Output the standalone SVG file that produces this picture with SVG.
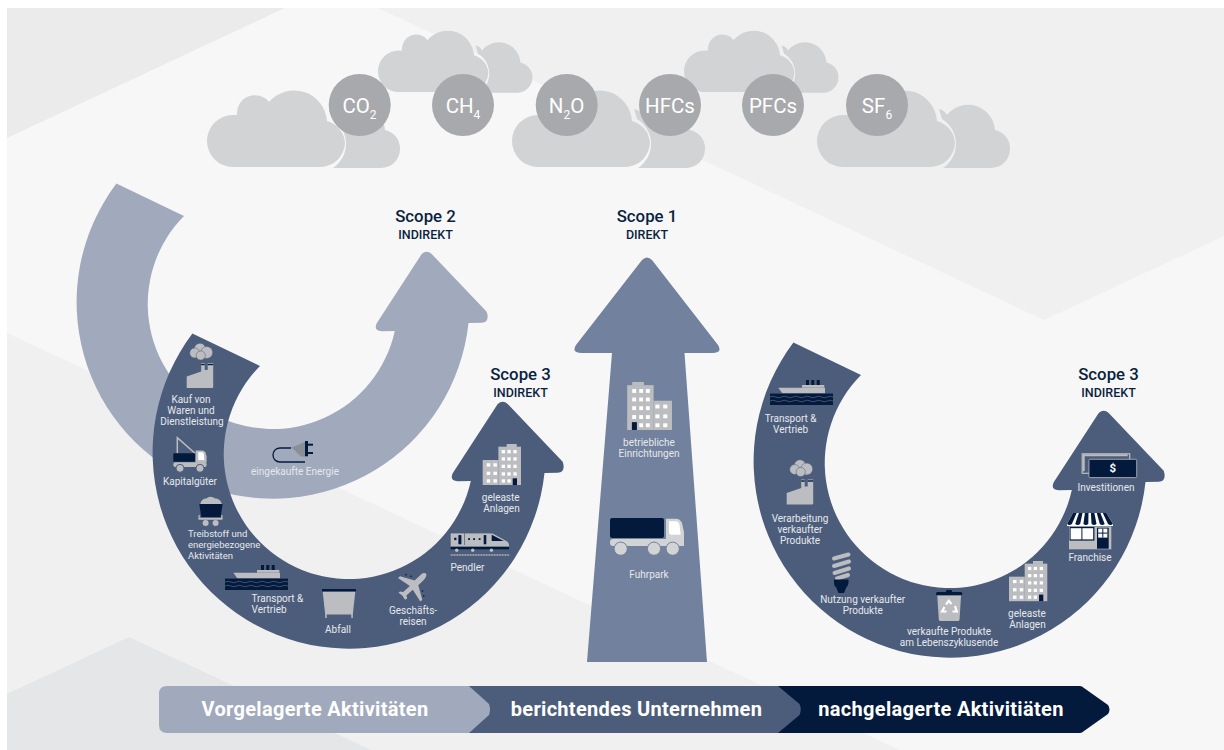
<svg xmlns="http://www.w3.org/2000/svg" xmlns:xlink="http://www.w3.org/1999/xlink" width="1224" height="750" viewBox="0 0 1224 750">
<style>
text{font-family:Roboto,"Liberation Sans",sans-serif}
.l{font-size:10px;fill:#E6E8EC;text-anchor:middle}
.ls{font-size:10px;fill:#E6E8EC}
.lt{font-size:9.5px;fill:#E6E8EC}
.sc{font-size:16.8px;font-weight:500;fill:#0B1F3F;text-anchor:middle}
.si{font-size:12.5px;font-weight:500;fill:#0B1F3F;text-anchor:middle}
.g{font-size:20.5px;fill:#fff;text-anchor:middle}
.sub{font-size:12px}
.b{font-size:20px;font-weight:700;fill:#fff;text-anchor:middle;letter-spacing:.3px}
.cl{fill:#D1D3D4}
.gc{fill:#A8A9AC}
.ic{fill:#BCBDC0}
.n{fill:#031A3C}
.w{fill:#fff}
.win{fill:#fff}
</style>
<defs>
<path id="front" d="M26 0A26 26 0 0 1 26 -52H30A18 18 0 0 1 62 -65A33 33 0 0 1 120 -46A25 25 0 0 1 138 -25A25 25 0 0 1 113 0Z"/>
<path id="back" d="M126 1A29 29 0 0 0 125 -48L122 -58Q127 -57 130 -52A27 27 0 0 1 178 -37A19 19 0 0 1 193 -18A19 19 0 0 1 174 1Z"/>
<g id="cloud"><use href="#back" class="cl"/><use href="#front" class="cl"/></g>
<path id="arc" d="M116.4 183.6A196.5 196.5 0 1 0 468.5 323L481.7 322.7Q490 322.3 486.7 311.7L431.7 254Q426.7 249.3 421.7 254L376.7 323.3Q373.3 331 381.7 331.3L394.8 331A125 125 0 1 1 184 216Z"/>
<g id="factory">
<circle cx="13.3" cy="6" r="5.8" class="ic" stroke="#4C5D7B" stroke-width=".5"/>
<circle cx="8" cy="10" r="5" class="ic" stroke="#4C5D7B" stroke-width=".5"/>
<circle cx="20" cy="9.5" r="6" class="ic" stroke="#4C5D7B" stroke-width=".5"/>
<circle cx="14" cy="12.5" r="4.6" class="ic" stroke="#4C5D7B" stroke-width=".5"/>
<path class="ic" d="M0 45V33.5L14.5 28.5V20H18V27H21V20H26.5V44Q26.5 45 25.5 45Z"/>
<rect class="n" x="14.5" y="20.8" width="3.5" height="1.4"/><rect class="n" x="21" y="20.8" width="5.5" height="1.4"/>
</g>
<g id="crane">
<path d="M4 16V.3L21.7 16" fill="none" stroke="#BCBDC0" stroke-width="1.5"/>
<rect class="n" x="0" y="16" width="21.7" height="8.4" rx="1"/>
<path class="ic" d="M22.3 13.3H29Q31 13.3 32 15L33.3 19V25.5H22.3Z"/>
<path class="w" d="M25 15H28.8Q30 15 30.5 16.5L31 22.7H25Z"/>
<rect class="ic" x="0" y="25" width="33.3" height="4.6" rx="2"/>
<circle class="ic" cx="6.7" cy="31" r="4" stroke="#4C5D7B"/><circle class="ic" cx="26.7" cy="31" r="4" stroke="#4C5D7B"/>
</g>
<g id="cart">
<path class="ic" d="M2 8Q3 2.5 8 2.5Q12 -1 17 2.5Q22 2.5 23.5 8Z"/>
<path class="n" d="M1 8H24.3L22.3 21.3H3Z"/>
<rect class="ic" x="0" y="21.8" width="24.3" height="2" rx="1"/>
<rect class="ic" x=".2" y="19" width="1.2" height="4"/><rect class="ic" x="23" y="19" width="1.2" height="4"/>
<circle class="ic" cx="7.3" cy="27" r="3"/><circle class="ic" cx="17.3" cy="27" r="3"/>
</g>
<g id="ship">
<path class="ic" d="M8.3 7.7H55V13.3H12.3Z"/>
<path class="ic" d="M32 5H54.3V7.7H32Z"/>
<rect class="n" x="36" y="0" width="3" height="5"/><rect class="n" x="41.3" y="0" width="3" height="5"/><rect class="n" x="46.7" y="0" width="3" height="5"/>
<rect class="n" x="0" y="13.6" width="63" height="11.4"/>
<path d="M0 17Q3 15.5 6 17T12 17T18 17T24 17T30 17T36 17T42 17T48 17T54 17T60 17T66 17M0 21Q3 19.5 6 21T12 21T18 21T24 21T30 21T36 21T42 21T48 21T54 21T60 21T66 21" fill="none" stroke="#6B7A95" stroke-width=".6" transform="scale(.955 1)"/>
</g>
<g id="dumpster">
<rect class="n" x="0" y="0" width="34" height="2.6" rx=".5"/>
<path class="ic" d="M.7 2.8H33.3L30.8 25.5H3.2Z"/>
<rect class="ic" x="3.2" y="25" width="1.5" height="4"/><rect class="ic" x="29.3" y="25" width="1.5" height="4"/>
</g>
<g id="plane">
<path class="ic" d="M28.8 .6C30.3 2 28.8 5 26.3 7.4L21.3 12.3L25.3 26.8L23.3 28.4L15.8 16.8L9.4 22.6L10.2 25.6L8 26.8L5.3 22.5L1.5 19.7L3 18.4L6.2 19L12.8 12.9L1 5L3 3.2L17.6 7.6L23.5 2C25.6 0 27.6 -.4 28.8 .6Z"/>
<circle class="n" cx="9" cy="1.8" r=".8"/><circle class="n" cx="14" cy="3.2" r=".8"/><circle class="n" cx="25.5" cy="18" r=".8"/><circle class="n" cx="26.7" cy="23" r=".8"/>
</g>
<g id="train">
<rect class="ic" x="0" y=".7" width="13.3" height="11.7"/>
<rect class="ic" x="14" y=".7" width="25.3" height="11.7"/>
<path class="ic" d="M39.3 .7H42L56 8.5Q58.5 10 58.3 12.3H39.3Z"/>
<path class="n" d="M41 2L53 8.2H41Z"/>
<rect class="n" x="3.5" y="5" width="2.2" height="2.4"/><rect class="n" x="7.7" y="2.4" width="3" height="9.2"/>
<rect class="n" x="17.5" y="5.5" width="1.8" height="1.8"/><rect class="n" x="22.5" y="5.5" width="1.8" height="1.8"/><rect class="n" x="28" y="5.5" width="1.8" height="1.8"/><rect class="n" x="33" y="2.4" width="2.6" height="9.2"/>
<rect class="n" x="0" y="14" width="58.3" height="2.6"/>
<rect class="ic" x="0" y="12.2" width="58.3" height="1.6"/>
<circle class="ic" cx="6" cy="17.5" r="1.7"/><circle class="ic" cx="22" cy="17.5" r="1.7"/><circle class="ic" cx="40.7" cy="17.5" r="1.7"/>
<path d="M0 22.3H58.5" stroke="#BCBDC0" stroke-width="1.6" stroke-dasharray="1 .6"/>
</g>
<g id="building">
<rect class="ic" x="24" y="0" width="10" height="3"/>
<rect class="ic" x="15.7" y="2.7" width="22.6" height="38.3"/>
<rect class="ic" x="0" y="16" width="15.8" height="25"/>
<g class="win">
<rect x="4" y="19.3" width="3.5" height="3.3"/><rect x="10.7" y="19.3" width="3.5" height="3.3"/>
<rect x="4" y="27.7" width="3.5" height="3.3"/><rect x="10.7" y="27.7" width="3.5" height="3.3"/>
<rect x="4" y="35.3" width="3.5" height="3.3"/><rect x="10.7" y="35.3" width="3.5" height="3.3"/>
<rect x="19" y="6" width="3.3" height="3.3"/><rect x="24.7" y="6" width="3.3" height="3.3"/><rect x="30.7" y="6" width="3.3" height="3.3"/>
<rect x="19" y="13.3" width="3.3" height="3.3"/><rect x="24.7" y="13.3" width="3.3" height="3.3"/><rect x="30.7" y="13.3" width="3.3" height="3.3"/>
<rect x="19" y="20.7" width="3.3" height="3.3"/><rect x="24.7" y="20.7" width="3.3" height="3.3"/><rect x="30.7" y="20.7" width="3.3" height="3.3"/>
<rect x="19" y="28.3" width="3.3" height="3.3"/><rect x="24.7" y="28.3" width="3.3" height="3.3"/><rect x="30.7" y="28.3" width="3.3" height="3.3"/>
<rect x="19" y="35.3" width="3.3" height="3.3"/><rect x="24.7" y="35.3" width="3.3" height="3.3"/>
</g>
<rect class="n" x="30" y="34.3" width="4.3" height="6.7"/>
</g>
<g id="truck">
<rect class="n" x="0" y="0" width="54" height="20" rx="2"/>
<path fill="#D1D3D4" d="M56 .7H66Q70 .7 72 5L74 14V28H56Z"/>
<path class="w" d="M59 3.3H66Q68.5 3.3 69.5 7L70.7 16.7H61Q59 16.7 59 14.7Z"/>
<rect fill="#D1D3D4" x="0" y="21" width="74" height="7" rx="3"/>
<g fill="#D1D3D4" stroke="#72819D"><circle cx="10.7" cy="30.7" r="6.6"/><circle cx="44" cy="30.7" r="6.6"/><circle cx="62.7" cy="30.7" r="6.6"/></g>
</g>
<g id="plug">
<path d="M18 7H7C2 7 0 11 0 14C0 18 3 21 7 21H32" fill="none" stroke="#031A3C" stroke-width="1.3"/>
<path fill="#8A8E97" d="M18 6H20L32 1V15.5H28Z"/>
<rect class="n" x="32" y="0" width="3" height="15.3"/>
<rect class="n" x="35" y="2.7" width="5" height="2"/><rect class="n" x="35" y="11" width="5" height="2"/>
</g>
<g id="bulb">
<g stroke="#BCBDC0" stroke-width="4" stroke-linecap="round"><path d="M3 6.5L17.5 2.5"/><path d="M3 14L18 9.5"/><path d="M3.5 21L18 16.5"/><path d="M6 26.5L17 23"/></g>
<path class="n" d="M3 27.5H17.5V31Q17 34 15.5 35L13 41H7.5L5 35Q3 34 3 31Z"/>
</g>
<g id="rbin">
<rect class="n" x="10" y="0" width="6" height="3" rx="1"/><rect class="n" x="0" y="2" width="26.3" height="3.2" rx="1.5"/>
<path class="ic" d="M1.3 5.5H25L23.5 29.5Q23.3 31 22 31H4.5Q3 31 2.8 29.5Z"/>
<g fill="none" stroke="#fff" stroke-width="2.2"><path d="M10 14.5L12.8 10.8L15.5 14"/><path d="M19 16L20.8 21.5H16.5"/><path d="M10.5 21.5H6L8.5 17"/></g>
</g>
<g id="store">
<path class="w" d="M6 0H39.3L46 10.7V13H0V10.7Z"/>
<g class="n"><path d="M6 0H9.6L4.9 11Q2.5 13 0 11Z"/><path d="M11.9 0H15.5L13.1 11Q10.6 13 8.2 11Z"/><path d="M17.9 0H21.5L21.3 11Q18.8 13 16.4 11Z"/><path d="M23.9 0H27.4L29.5 11Q27 13 24.6 11Z"/><path d="M29.8 0H33.4L37.7 11Q35.2 13 32.8 11Z"/><path d="M35.8 0H39.3L46 11Q43.5 13 41 11Z"/></g>
<rect class="ic" x="2" y="13.4" width="42.3" height="22.9"/>
<rect class="n" x="2.6" y="14" width="24.8" height="13.6"/>
<rect class="w" x="3.6" y="15.2" width="10.8" height="11.2"/><rect class="w" x="15.4" y="15.2" width="10.8" height="11.2"/>
<rect class="n" x="30" y="14.7" width="11.7" height="21"/>
<rect class="w" x="31.2" y="15.6" width="9.2" height="9"/>
<path d="M35.8 15.6V24.6M31.2 20.1H40.4" stroke="#031A3C" stroke-width="1"/>
</g>
<g id="money">
<rect x=".5" y=".5" width="47.5" height="19.5" fill="#4C5D7B" stroke="#BCBDC0" stroke-width="1.2"/>
<path d="M2 18V2H46" fill="none" stroke="#BCBDC0" stroke-width="2"/>
<rect class="n" x="7.3" y="6" width="47.7" height="18.3" rx="1" stroke="#BCBDC0" stroke-width=".8"/>
</g>
</defs>

<g id="background">
<rect x="7" y="8" width="1217" height="742" fill="#F7F7F7"/>
<path d="M7 8H285L7 138Z" fill="#EBEBEB"/>
<path d="M378 8H1224V236L1044 320Z" fill="#F0F0F0"/>
<path d="M7 333L900 750H7Z" fill="#F0F0F0"/>
<path d="M129 637L371 750H7V694Z" fill="#E5E6E7"/>
</g>

<g id="clouds">
<use href="#cloud" transform="translate(378 92) scale(.8)"/>
<use href="#cloud" transform="translate(684 92) scale(.8)"/>
<use href="#cloud" transform="translate(207 167)"/>
<use href="#cloud" transform="translate(512 167)"/>
<use href="#cloud" transform="translate(817 167)"/>
</g>

<g id="gases">
<g id="gas-co2"><circle class="gc" cx="359.7" cy="105" r="31"/><text class="g" x="359.5" y="113">CO<tspan class="sub" dy="6">2</tspan></text></g>
<g id="gas-ch4"><circle class="gc" cx="463" cy="105" r="31"/><text class="g" x="463" y="113">CH<tspan class="sub" dy="6">4</tspan></text></g>
<g id="gas-n2o"><circle class="gc" cx="566.7" cy="105" r="31"/><text class="g" x="566.5" y="113">N<tspan class="sub" dy="6">2</tspan><tspan dy="-6">O</tspan></text></g>
<g id="gas-hfcs"><circle class="gc" cx="670" cy="105" r="31"/><text class="g" x="670" y="113">HFCs</text></g>
<g id="gas-pfcs"><circle class="gc" cx="773" cy="105" r="31"/><text class="g" x="773" y="113">PFCs</text></g>
<g id="gas-sf6"><circle class="gc" cx="877" cy="105" r="31"/><text class="g" x="877" y="113">SF<tspan class="sub" dy="6">6</tspan></text></g>
</g>

<g id="scope2">
<use href="#arc" fill="#A1A9BC"/>
<use href="#plug" x="273" y="441"/>
<text class="l" x="295" y="475">eingekaufte Energie</text>
<text class="sc" x="425.5" y="222">Scope 2</text><text class="si" x="425.5" y="239">INDIREKT</text>
</g>

<g id="scope3-upstream">
<use href="#arc" fill="#4C5D7B" transform="translate(76 150)"/>
<text class="sc" x="520.5" y="380">Scope 3</text><text class="si" x="520.5" y="397">INDIREKT</text>
<use href="#factory" x="186.7" y="343"/>
<text class="l" x="191.5"><tspan x="191" y="403">Kauf von</tspan><tspan x="191" y="414">Waren und</tspan><tspan x="192" y="425">Dienstleistung</tspan></text>
<use href="#crane" x="173.3" y="437.3"/>
<text class="l" x="190" y="485">Kapitalgüter</text>
<use href="#cart" x="198.3" y="496"/>
<text class="lt"><tspan x="188" y="537">Treibstoff und</tspan><tspan x="188" y="548">energiebezogene</tspan><tspan x="188" y="559">Aktivitäten</tspan></text>
<use href="#ship" x="225" y="565"/>
<text class="ls"><tspan x="251.5" y="602">Transport &amp;</tspan><tspan x="251.5" y="613">Vertrieb</tspan></text>
<use href="#dumpster" x="322" y="589"/>
<text class="l" x="338" y="633">Abfall</text>
<use href="#plane" x="397" y="573"/>
<text class="l"><tspan x="413" y="614">Geschäfts-</tspan><tspan x="413" y="625">reisen</tspan></text>
<use href="#train" x="450.7" y="532.7"/>
<text class="ls" x="450.5" y="571">Pendler</text>
<use href="#building" x="482.7" y="444"/>
<text class="l"><tspan x="500.7" y="501">geleaste</tspan><tspan x="501.5" y="512">Anlagen</tspan></text>
</g>

<g id="scope1">
<path fill="#72819D" d="M612 353L587 662H707L684.5 353H712Q723 353 718 345L652 260Q647 255 642 260L576 345Q571 353 582 353Z"/>
<text class="sc" x="647" y="222">Scope 1</text><text class="si" x="647" y="239">DIREKT</text>
<use href="#building" transform="translate(672 382) scale(-1.17 1.17)"/>
<text class="l"><tspan x="649" y="446">betriebliche</tspan><tspan x="649" y="457">Einrichtungen</tspan></text>
<use href="#truck" x="610" y="518"/>
<text class="l" x="649" y="578">Fuhrpark</text>
</g>

<g id="scope3-downstream">
<use href="#arc" fill="#4C5D7B" transform="translate(677 159)"/>
<text class="sc" x="1108.5" y="380">Scope 3</text><text class="si" x="1108.5" y="397">INDIREKT</text>
<use href="#ship" x="770" y="380"/>
<text class="l"><tspan x="790.6" y="422">Transport &amp;</tspan><tspan x="790.6" y="433">Vertrieb</tspan></text>
<use href="#factory" x="786.7" y="459.5"/>
<text class="l"><tspan x="800" y="522">Verarbeitung</tspan><tspan x="800" y="533">verkaufter</tspan><tspan x="800" y="544">Produkte</tspan></text>
<use href="#bulb" x="831" y="552"/>
<text class="l"><tspan x="862.7" y="603">Nutzung verkaufter</tspan><tspan x="862.7" y="614">Produkte</tspan></text>
<use href="#rbin" x="936" y="590"/>
<text class="l"><tspan x="949" y="635">verkaufte Produkte</tspan><tspan x="949" y="646">am Lebenszyklusende</tspan></text>
<use href="#building" transform="translate(1009 561) scale(1 .98)"/>
<text class="l"><tspan x="1027" y="617">geleaste</tspan><tspan x="1027.5" y="628">Anlagen</tspan></text>
<use href="#store" x="1067" y="513"/>
<text class="l" x="1090" y="561">Franchise</text>
<use href="#money" x="1081.7" y="453.3"/>
<text x="1112.7" y="472" font-size="11.5" font-weight="700" fill="#fff" text-anchor="middle">$</text>
<text class="l" x="1106" y="491">Investitionen</text>
</g>

<g id="timeline">
<path class="n" d="M760 686H1080Q1082 686 1084 688L1108 705Q1111 709.5 1108 714L1084 731Q1082 733 1080 733H760Z"/>
<path fill="#4C5D7B" d="M460 686H778L799.5 704Q802 709.5 799.5 715L778 733H460Z"/>
<path fill="#A1A9BC" d="M167 686H469L489 704Q491 709.5 489 715L469 733H167Q159 733 159 725V694Q159 686 167 686Z"/>
<text class="b" x="315" y="716">Vorgelagerte Aktivitäten</text>
<text class="b" x="636.5" y="716">berichtendes Unternehmen</text>
<text class="b" x="941" y="716">nachgelagerte Aktivitiäten</text>
</g>
</svg>
